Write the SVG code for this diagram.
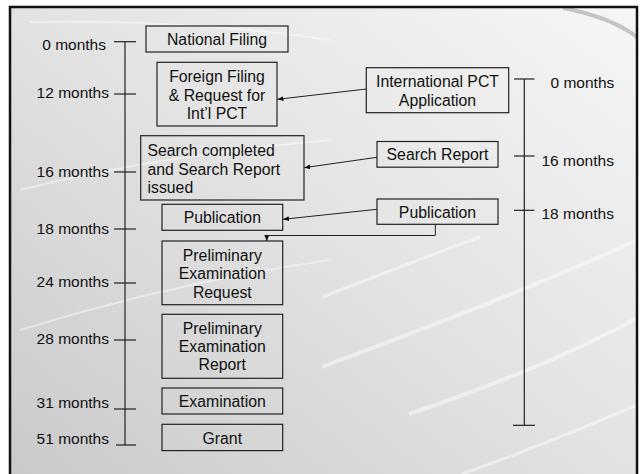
<svg xmlns="http://www.w3.org/2000/svg" width="644" height="474" viewBox="0 0 644 474">
<defs>
<linearGradient id="bg" x1="0" y1="1" x2="1" y2="0">
<stop offset="0" stop-color="#c9c9c9"/>
<stop offset="0.5" stop-color="#e2e2e2"/>
<stop offset="1" stop-color="#f6f6f6"/>
</linearGradient>
<marker id="ah" markerUnits="userSpaceOnUse" markerWidth="7" markerHeight="6" refX="6" refY="3" orient="auto">
<path d="M0,0.5 L6,3 L0,5.5 Z" fill="#111"/>
</marker>
<style>
.box{fill:none;stroke:#222;stroke-width:1.2}
.t{font-family:"Liberation Sans",Arial,sans-serif;font-size:15.8px;fill:#111}
.c{text-anchor:middle}
.lab{font-family:"Liberation Sans",Arial,sans-serif;font-size:15.5px;fill:#111}
.ax{stroke:#222;stroke-width:1.2;fill:none}
.con{stroke:#222;stroke-width:1;fill:none}
.sw{fill:none;stroke:#ffffff;stroke-opacity:0.45}
</style>
</defs>
<rect x="0" y="0" width="644" height="474" fill="#ffffff"/>
<rect x="10" y="7" width="627" height="480" fill="url(#bg)"/>
<g id="background-swooshes">
<path class="sw" stroke-width="3" d="M322,297 C380,275 430,255 480,237"/>
<path class="sw" stroke-width="4" d="M322,367 C420,330 540,285 637,240"/>
<path class="sw" stroke-width="4" d="M409,414 C480,390 570,355 637,318"/>
<path class="sw" stroke-width="3" d="M462,474 C530,450 590,425 637,405"/>
<path class="sw" stroke-width="2" stroke-opacity="0.25" d="M20,190 C120,165 220,150 330,140"/>
<path class="sw" stroke-width="2" stroke-opacity="0.25" d="M20,330 C150,290 260,270 330,260"/>
<path class="sw" stroke-width="2" stroke-opacity="0.3" d="M30,22 C120,20 230,25 330,40"/>
<path fill="none" stroke="#c4c4c4" stroke-width="4" d="M563,8 C595,14 620,24 637,37"/>
</g>
<rect x="10" y="7" width="627" height="480" fill="none" stroke="#111" stroke-width="2.5"/>

<g id="left-timeline">
<line class="ax" x1="125" y1="41.7" x2="125" y2="445"/>
<line class="ax" x1="114" y1="41.7" x2="136" y2="41.7"/>
<line class="ax" x1="114" y1="94" x2="136" y2="94"/>
<line class="ax" x1="114" y1="172" x2="136" y2="172"/>
<line class="ax" x1="114" y1="229" x2="136" y2="229"/>
<line class="ax" x1="114" y1="283" x2="136" y2="283"/>
<line class="ax" x1="114" y1="340" x2="136" y2="340"/>
<line class="ax" x1="114" y1="409" x2="136" y2="409"/>
<line class="ax" x1="116" y1="445" x2="136" y2="445"/>
<text class="lab" x="106" y="50" text-anchor="end">0 months</text>
<text class="lab" x="109" y="97.5" text-anchor="end">12 months</text>
<text class="lab" x="109" y="177" text-anchor="end">16 months</text>
<text class="lab" x="109" y="234" text-anchor="end">18 months</text>
<text class="lab" x="109" y="287" text-anchor="end">24 months</text>
<text class="lab" x="109" y="344" text-anchor="end">28 months</text>
<text class="lab" x="109" y="408" text-anchor="end">31 months</text>
<text class="lab" x="109" y="444" text-anchor="end">51 months</text>
</g>

<g id="right-timeline">
<line class="ax" x1="524.3" y1="79" x2="524.3" y2="425.3"/>
<line class="ax" x1="514" y1="79" x2="534.5" y2="79"/>
<line class="ax" x1="514" y1="156" x2="534.5" y2="156"/>
<line class="ax" x1="514" y1="210.3" x2="534.5" y2="210.3"/>
<line class="ax" x1="513" y1="425.3" x2="535" y2="425.3"/>
<text class="lab" x="550.5" y="88">0 months</text>
<text class="lab" x="541.5" y="166">16 months</text>
<text class="lab" x="541.5" y="218.5">18 months</text>
</g>

<g id="national-filing">
<rect class="box" x="146" y="26" width="142" height="26"/>
<text class="t c" x="217" y="45.3">National Filing</text>
</g>
<g id="foreign-filing">
<rect class="box" x="157" y="62.3" width="120" height="63.7"/>
<text class="t c" x="217" y="82">Foreign Filing</text>
<text class="t c" x="217" y="100.7">&amp; Request for</text>
<text class="t c" x="217" y="119.2">Int’l PCT</text>
</g>
<g id="search-completed">
<rect class="box" x="140.7" y="135.7" width="163.3" height="64.3"/>
<text class="t" x="147.5" y="156">Search completed</text>
<text class="t" x="147.5" y="175">and Search Report</text>
<text class="t" x="147.5" y="193">issued</text>
</g>
<g id="publication-left">
<rect class="box" x="162" y="204.3" width="120.7" height="26"/>
<text class="t c" x="222.3" y="223.3">Publication</text>
</g>
<g id="prelim-exam-request">
<rect class="box" x="162" y="241" width="120.7" height="63.7"/>
<text class="t c" x="222.3" y="261">Preliminary</text>
<text class="t c" x="222.3" y="279.3">Examination</text>
<text class="t c" x="222.3" y="297.7">Request</text>
</g>
<g id="prelim-exam-report">
<rect class="box" x="162" y="314.3" width="120.7" height="64"/>
<text class="t c" x="222.3" y="333.7">Preliminary</text>
<text class="t c" x="222.3" y="352">Examination</text>
<text class="t c" x="222.3" y="370.3">Report</text>
</g>
<g id="examination">
<rect class="box" x="162" y="388" width="120.7" height="26"/>
<text class="t c" x="222.3" y="407">Examination</text>
</g>
<g id="grant">
<rect class="box" x="162" y="424.3" width="120.7" height="26.3"/>
<text class="t c" x="222.3" y="443.7">Grant</text>
</g>

<g id="intl-pct-application">
<rect class="box" x="366.3" y="67.7" width="142.4" height="45"/>
<text class="t c" x="437.5" y="87.3">International PCT</text>
<text class="t c" x="437.5" y="105.7">Application</text>
</g>
<g id="search-report">
<rect class="box" x="377" y="141.5" width="121" height="25.7"/>
<text class="t c" x="437.5" y="160.3">Search Report</text>
</g>
<g id="publication-right">
<rect class="box" x="377" y="199" width="121" height="25.3"/>
<text class="t c" x="437.5" y="218.3">Publication</text>
</g>

<g id="connectors">
<line class="con" x1="366.3" y1="89" x2="277.5" y2="99.3" marker-end="url(#ah)"/>
<line class="con" x1="377" y1="157.3" x2="304.2" y2="167.7" marker-end="url(#ah)"/>
<line class="con" x1="377" y1="209.3" x2="283" y2="219.3" marker-end="url(#ah)"/>
<polyline class="con" points="435.3,224.3 435.3,235.5 266.8,235.5 266.8,241" marker-end="url(#ah)"/>
</g>
</svg>
